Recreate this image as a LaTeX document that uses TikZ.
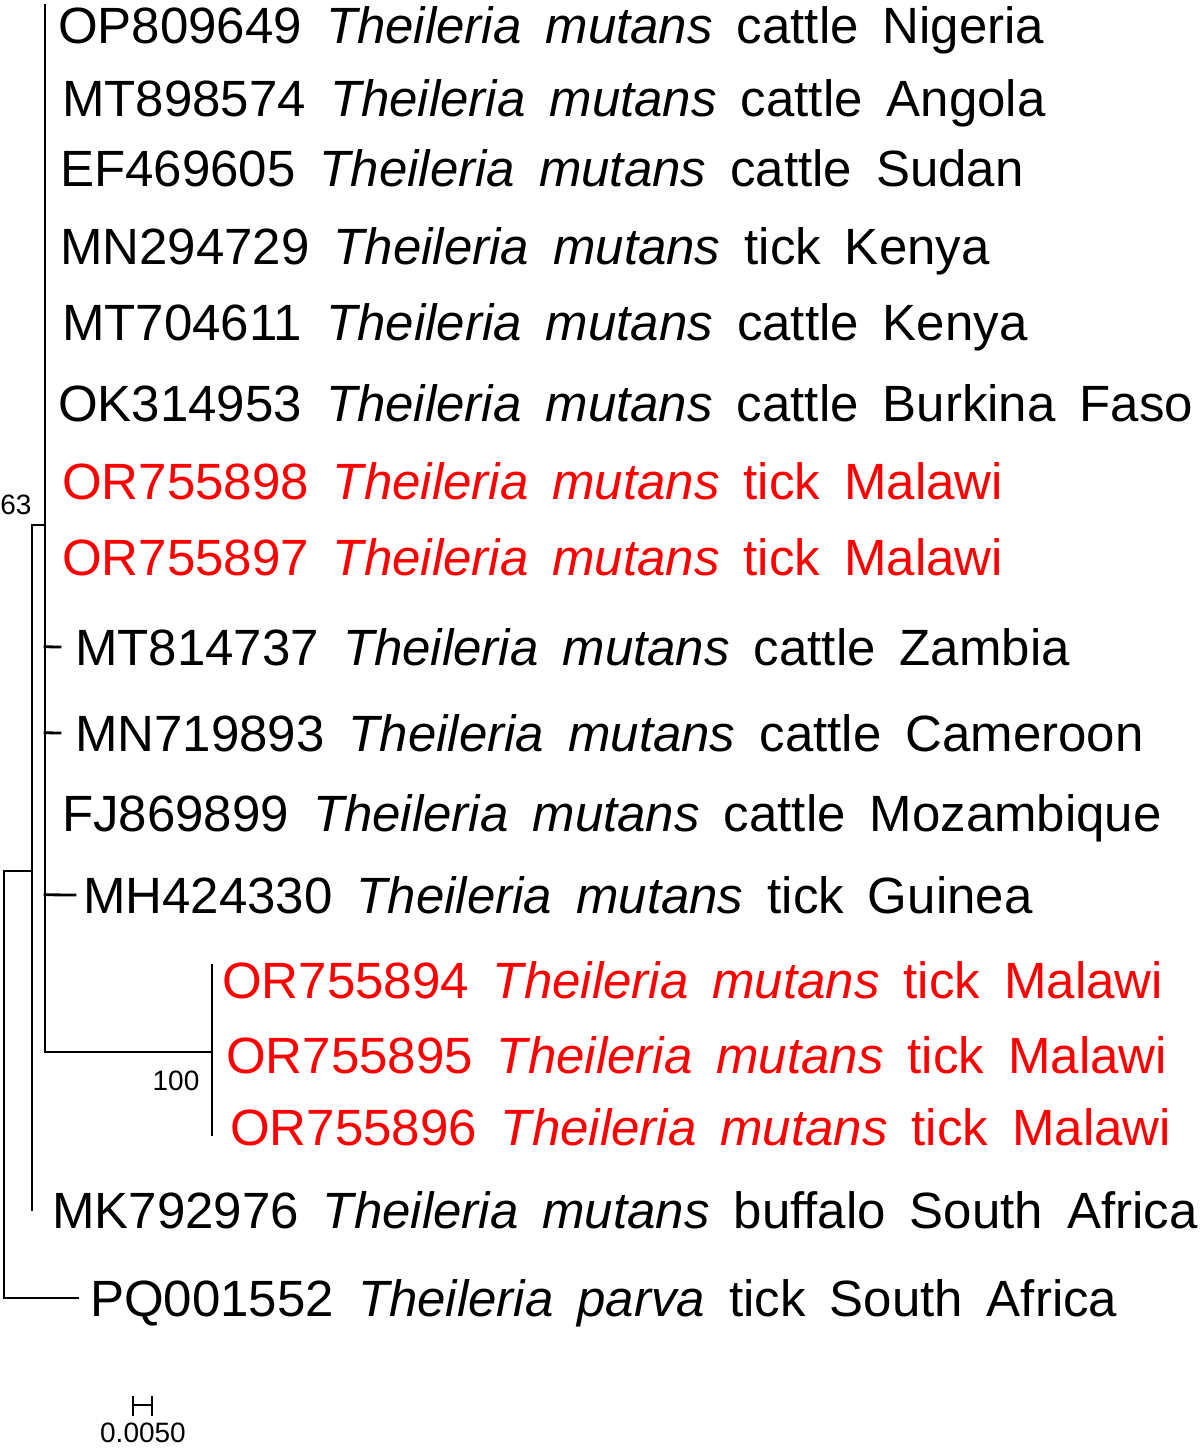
\documentclass[tikz,border=0pt]{standalone}
\usepackage{fontspec}
\setmainfont{Liberation Sans}
\definecolor{malred}{RGB}{255,0,0}
\newcommand\widespace{\spaceskip=24pt\relax}
\begin{document}
\begin{tikzpicture}[x=1pt,y=-1pt,
  br/.style={line width=2.8pt, line cap=rect},
  leaf/.style={anchor=base west, inner xsep=12pt, inner ysep=0pt,
    font=\fontsize{51}{57}\selectfont, execute at begin node=\widespace},
  mal/.style={leaf, text=malred},
  support/.style={font=\fontsize{28}{30}\selectfont, inner sep=0pt},
  scalebar/.style={line width=2.2pt}]
\useasboundingbox (0,0) rectangle (1200,1448);
% leaves (x = text start - 12, y = centre + 18)
\node[leaf] (l1)  at (46,43)   {OP809649 \textit{Theileria} \textit{mutans} cattle Nigeria};
\node[leaf] (l2)  at (50,116)  {MT898574 \textit{Theileria} \textit{mutans} cattle Angola};
\node[leaf] (l3)  at (48,186)  {EF469605 \textit{Theileria} \textit{mutans} cattle Sudan};
\node[leaf] (l4)  at (48,264)  {MN294729 \textit{Theileria} \textit{mutans} tick Kenya};
\node[leaf] (l5)  at (50,340)  {MT704611 \textit{Theileria} \textit{mutans} cattle Kenya};
\node[leaf] (l6)  at (46,421)  {OK314953 \textit{Theileria} \textit{mutans} cattle Burkina Faso};
\node[mal]  (l7)  at (50,499)  {OR755898 \textit{Theileria} \textit{mutans} tick Malawi};
\node[mal]  (l8)  at (50,575)  {OR755897 \textit{Theileria} \textit{mutans} tick Malawi};
\node[leaf] (l9)  at (63,665)  {MT814737 \textit{Theileria} \textit{mutans} cattle Zambia};
\node[leaf] (l10) at (63,751)  {MN719893 \textit{Theileria} \textit{mutans} cattle Cameroon};
\node[leaf] (l11) at (50,831)  {FJ869899 \textit{Theileria} \textit{mutans} cattle Mozambique};
\node[leaf] (l12) at (71,913)  {MH424330 \textit{Theileria} \textit{mutans} tick Guinea};
\node[mal]  (l13) at (210,998) {OR755894 \textit{Theileria} \textit{mutans} tick Malawi};
\node[mal]  (l14) at (214,1073){OR755895 \textit{Theileria} \textit{mutans} tick Malawi};
\node[mal]  (l15) at (218,1145){OR755896 \textit{Theileria} \textit{mutans} tick Malawi};
\node[leaf] (l16) at (40,1228) {MK792976 \textit{Theileria} \textit{mutans} buffalo South Africa};
\node[leaf] (l17) at (78,1316) {PQ001552 \textit{Theileria} \textit{parva} tick South Africa};
% internal nodes
\coordinate (rootT) at (4,871);
\coordinate (rootB) at (4,1298);
\coordinate (n63T) at (32,525);
\coordinate (n63B) at (32,1210);
\coordinate (nAT) at (45,5);
\coordinate (nAM) at (45,525);
\coordinate (nAB) at (45,1052);
\coordinate (n100T) at (212,965);
\coordinate (n100M) at (212,1052);
\coordinate (n100B) at (212,1135);
\coordinate (n63M) at (32,871);
% branches
\draw[br] (rootT) -- (rootB);
\draw[br] (rootT) -- (n63M);
\draw[br] (rootB) -- (l17.west |- rootB);
\draw[br] (n63T) -- (n63B);
\draw[br] (n63T) -- (nAM);
\draw[br] (nAT) -- (nAB);
\draw[br] (nAB) -- (n100M);
\draw[br] (n100T) -- (n100B);
\draw[br] (nAT |- l9.west) -- (60,647);
\draw[br] (nAT |- l10.west) -- (60,733);
\draw[br] (nAT |- l12.west) -- (75,895);
% support values
\node[support] (s63) at (16,505) {63};
\node[support] (s100) at (176,1081) {100};
% scale bar
\coordinate (sbL) at (133,1405);
\coordinate (sbR) at (152,1405);
\draw[scalebar] (sbL) -- (sbR);
\draw[scalebar] ([yshift=-11pt]sbL) -- ([yshift=9pt]sbL);
\draw[scalebar] ([yshift=-11pt]sbR) -- ([yshift=9pt]sbR);
\node[support] (sblab) at (143,1433) {0.0050};
\end{tikzpicture}
\end{document}
